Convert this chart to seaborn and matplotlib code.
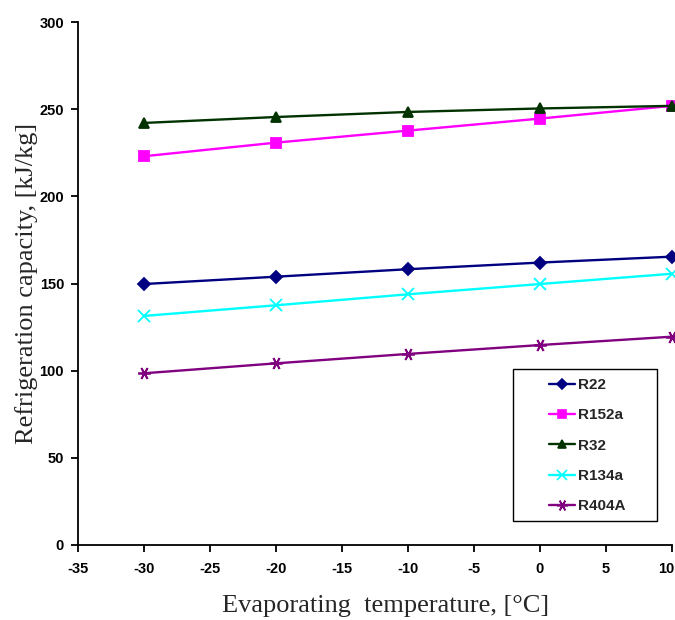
import numpy as np
import pandas as pd
import matplotlib
matplotlib.use("Agg")
import matplotlib.pyplot as plt
import matplotlib.transforms as mtransforms
import seaborn as sns
from matplotlib.lines import Line2D
from matplotlib.patches import Rectangle

temps = [-30, -20, -10, 0, 10]
refrigerants = ["R22", "R152a", "R32", "R134a", "R404A"]
r22 = [149.7, 153.9, 158.2, 162.0, 165.4]
r152a = [223.0, 230.8, 237.7, 244.6, 251.9]
r32 = [242.1, 245.5, 248.4, 250.4, 251.9]
r134a = [131.4, 137.5, 143.8, 149.7, 155.6]
r404a = [98.5, 104.2, 109.6, 114.7, 119.5]

values = [r22, r152a, r32, r134a, r404a]

sns.set_style("white")
plt.rcParams["axes.unicode_minus"] = False
palette = {"R22": "#000080", "R152a": "#FF00FF", "R32": "#003300",
           "R134a": "#00FFFF", "R404A": "#800080"}
markers = {"R22": "D", "R152a": "s", "R32": "^", "R134a": "x", "R404A": (6, 2, 90)}
msizes = {"R22": 6, "R152a": 7, "R32": 7, "R134a": 8, "R404A": 9}

fig = plt.figure(figsize=(6.75, 6.2), dpi=100)
ax = fig.add_axes([78/675, 75/620, (672-78)/675, (545-22)/620])

for r, v in zip(refrigerants, values):
    d = pd.DataFrame({"T": temps, "Q": v})
    sns.lineplot(data=d, x="T", y="Q", color=palette[r], marker=markers[r],
                 markersize=msizes[r], markeredgewidth=1.3, markeredgecolor=palette[r],
                 linewidth=1.7, ax=ax, clip_on=False)

ax.set_xlim(-35, 10)
ax.set_ylim(0, 300)
ax.set_xticks(np.arange(-35, 11, 5))
ax.set_yticks(np.arange(0, 301, 50))
for s in ["top", "right"]:
    ax.spines[s].set_visible(False)
for s in ["left", "bottom"]:
    ax.spines[s].set_color("black")
    ax.spines[s].set_linewidth(1.3)
ax.tick_params(axis="both", direction="out", length=5, width=1.3, colors="black",
               labelsize=10.5, pad=5, left=True, bottom=True)
ax.tick_params(axis="x", pad=7)
for lab in ax.get_xticklabels() + ax.get_yticklabels():
    lab.set_fontweight("bold")
    lab.set_fontfamily("Liberation Sans")
# nudge the last x tick label so it stays inside the figure
last = ax.get_xticklabels()[-1]
last.set_transform(last.get_transform() +
                   mtransforms.ScaledTranslation(-6/100, 0, fig.dpi_scale_trans))

ax.set_xlabel("Evaporating  temperature, [°C]", fontfamily="Liberation Serif",
              fontsize=19)
ax.set_ylabel("Refrigeration capacity, [kJ/kg]", fontfamily="Liberation Serif",
              fontsize=19)
ax.xaxis.set_label_coords((386 - 78) / 594, (545 - 595) / 523)
ax.yaxis.set_label_coords((38 - 78) / 594, 0.5)

handles = [Line2D([0], [0], color=palette[r], marker=markers[r], lw=1.7,
                  markersize=msizes[r] - 1, markeredgewidth=1.2) for r in refrigerants]
leg = fig.legend(handles, refrigerants, loc="upper left",
                 bbox_to_anchor=(549/675, 1 - 378/620), frameon=False,
                 prop={"family": "Liberation Sans", "weight": "bold", "size": 11},
                 handlelength=1.7, labelspacing=1.07, borderpad=0, handletextpad=0.2,
                 borderaxespad=0)
fig.patches.append(Rectangle((513/675, 1 - 521/620), 144/675, 152/620,
                             transform=fig.transFigure, fill=False,
                             edgecolor="black", linewidth=1.0))

fig.savefig("out.png", dpi=100)
